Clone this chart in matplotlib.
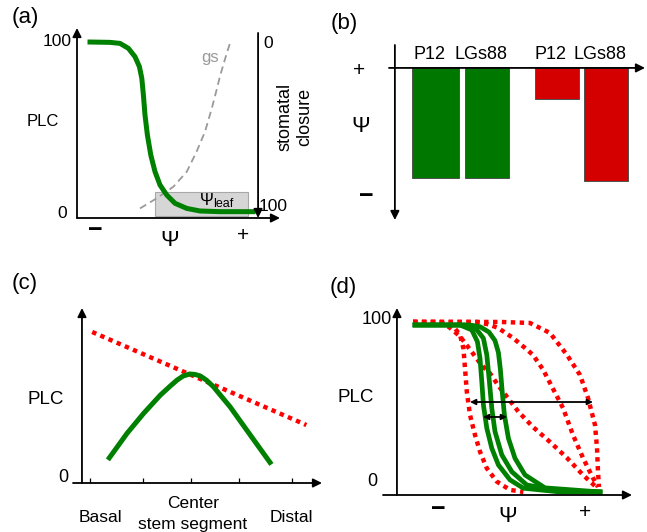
import numpy as np
import matplotlib
matplotlib.use('Agg')
import matplotlib.pyplot as plt
from matplotlib.patches import Rectangle

plt.rcParams['font.family'] = ['Liberation Sans', 'DejaVu Sans']

# ---- data (schematic values) ----
# (a) vulnerability curve and stomatal conductance vs water potential
a_psi = [0.65, 1.65, 2.15, 2.57, 2.9, 3.12, 3.24, 3.32, 3.4, 3.52, 3.69, 3.9, 4.15,
         4.49, 4.9, 5.49, 6.15, 7.15, 8.8]
a_plc = [100, 99.8, 99.2, 96.3, 91.4, 85.6, 78.8, 69.0, 57.3, 45.6, 33.9, 24.2, 16.4,
         10.5, 5.7, 2.7, 1.2, 0.8, 0.8]
gs_psi = [3.15, 3.98, 4.82, 5.49, 5.98, 6.4, 6.74, 6.98, 7.15, 7.4, 7.65]
gs_val = [2.7, 8.6, 15.4, 24.2, 35.9, 47.6, 61.2, 72.0, 80.0, 90.0, 99.4]
leaf_range = [3.9, 8.55]  # psi_leaf range
leaf_plc = [-1.75, 12.3]

# (b) water potential bars
b_labels = ['P12', 'LGs88', 'P12', 'LGs88']
b_values = [-3.5, -3.5, -1.0, -3.6]
b_colors = ['#007800', '#007800', '#d40000', '#d40000']

# (c) PLC along stem
c_ticks = [0, 1.05, 2.0, 2.95, 4.0]
c_red_pos = [0.04, 4.28]
c_red_plc = [85.9, 31.2]
c_green_pos = [0.38, 0.73, 1.06, 1.39, 1.6, 1.72, 1.84, 1.97, 2.08, 2.18, 2.3,
               2.44, 2.77, 3.10, 3.56]
c_green_plc = [11.9, 26.3, 38.1, 48.8, 54.5, 57.6, 60.0, 61.2, 60.9, 60.0, 57.6,
               53.7, 41.9, 28.2, 9.2]

# (d) vulnerability curves, red (dotted) and green (solid)
d_red = [
    ([0.8, 2.15, 2.82, 3.15, 3.32, 3.4, 3.49, 3.65, 3.9, 4.15, 4.49, 4.99, 5.65, 6.32],
     [100, 100, 97.3, 92.4, 84.5, 72.8, 59.0, 45.3, 33.5, 23.7, 13.9, 6.1, 1.2, 0]),
    ([0.8, 2.15, 2.6, 3.15, 3.7, 4.2, 4.65, 5.1, 5.49, 6.07, 6.8, 7.65, 8.5, 9.3, 10.0],
     [100, 99.5, 97, 91.5, 83, 75, 69.8, 62, 56.1, 47.2, 38.2, 29.4, 20, 10, 2.4]),
    ([0.8, 4.0, 4.6, 5.05, 5.8, 6.4, 6.8, 7.3, 7.65, 8.3, 8.8, 9.3, 9.8, 10.05],
     [100, 100, 98.5, 96.5, 90.6, 84.7, 80.6, 72.0, 64.1, 49.4, 33.5, 20, 8.2, 2.9]),
    ([0.8, 5.15, 6.65, 7.65, 8.5, 9.15, 9.55, 9.9, 10.0, 10.05, 10.1],
     [100, 100, 99.4, 93.5, 80.6, 68.8, 55.3, 39.4, 25.9, 11.8, 2.9]),
]
d_green = [
    ([0.9, 3.15, 3.74, 4.02, 4.15, 4.24, 4.32, 4.49, 4.74, 5.07, 5.65, 6.32, 8.15, 10.15],
     [98.2, 98.2, 95.3, 88.4, 78.6, 64.9, 51.2, 37.5, 25.7, 15.9, 7.1, 2.2, 0, 0]),
    ([0.9, 3.4, 3.95, 4.32, 4.49, 4.62, 4.74, 4.9, 5.24, 5.74, 6.49, 8.15, 10.15],
     [98.2, 98.2, 96.0, 90.4, 80.6, 64.9, 49.2, 35.5, 21.8, 11.9, 4.1, 0.6, 0]),
    ([0.9, 3.65, 4.15, 4.6, 4.9, 5.07, 5.17, 5.26, 5.37, 5.57, 5.9, 6.4, 7.4, 10.15],
     [98.2, 98.2, 97.2, 94.0, 89.0, 82.0, 72.0, 59.0, 45.3, 31.6, 19.8, 10, 2.4, 0]),
]
d_wide = [3.65, 9.8, 52.9]
d_narrow = [4.3, 5.5, 44.1]

# ---- layout ----
W, H = 647, 532
fig = plt.figure(figsize=(6.47, 5.32), dpi=100)
GREEN = '#008000'
RED = '#ff0000'
FS = 13


def panel(x0, y0, x1, y1):
    ax = fig.add_axes([x0 / W, 1 - y1 / H, (x1 - x0) / W, (y1 - y0) / H])
    ax.axis('off')
    return ax


def ftext(x, y, s, size=FS, ha='center', **kw):
    fig.text(x / W, 1 - y / H, s, fontsize=size, ha=ha, va='center', **kw)


def arrow(ax, start, end, lw=1.3, style='-|>', ms=13):
    ax.annotate('', xy=end, xytext=start, xycoords='axes fraction',
                textcoords='axes fraction', annotation_clip=False,
                arrowprops=dict(arrowstyle=style, color='k', lw=lw,
                                mutation_scale=ms, shrinkA=0, shrinkB=0))


# (a)
ax = panel(77, 28, 280, 218)
ax.set_xlim(0, 10.15)
ax.set_ylim(-2.9, 108.2)
ax.add_patch(Rectangle((leaf_range[0], leaf_plc[0]), leaf_range[1] - leaf_range[0],
                       leaf_plc[1] - leaf_plc[0], facecolor='#d6d6d6',
                       edgecolor='#a8a8a8', lw=0.8, zorder=1))
ax.plot(gs_psi, gs_val, color='#9a9a9a', lw=1.3, ls=(0, (4, 2.5)), zorder=2)
ax.plot(a_psi, a_plc, color=GREEN, lw=3.6, solid_joinstyle='round', zorder=3)
arrow(ax, (0, 0), (0, 1))
arrow(ax, (0, 0), (1, 0))
arrow(ax, (0.892, 0.974), (0.892, 0.0))
ax.text(6.15, 7.3, 'Ψ', fontsize=12, ha='left', va='center', zorder=4)
ax.text(6.8, 5.3, 'leaf', fontsize=9, ha='left', va='center', zorder=4)
ax.text(6.65, 91, 'gs', fontsize=12, color='#9a9a9a', ha='center', va='center')

ftext(12, 18, '(a)', 16, ha='left')
ftext(72, 42, '100', 12.5, ha='right')
ftext(67, 213, '0', 12.5, ha='right')
ftext(43, 122, 'PLC', 12)
ftext(95, 230, '−', 18, fontweight='bold')
ftext(170, 240, 'Ψ', 16)
ftext(243, 236, '+', 15)
ftext(263, 44, '0', 12.5, ha='left')
ftext(259, 206, '100', 12.5, ha='left')
fig.text(295 / W, 1 - 117 / H, 'stomatal\nclosure', fontsize=13, rotation=90,
         ha='center', va='center', linespacing=1.25)

# (b)
ax = panel(389, 45, 645, 220)
ax.set_xlim(-0.12, 5.0)
ax.set_ylim(-4.84, 0.73)
b_pos = np.array([0.81, 1.84, 3.24, 4.22])
ax.bar(b_pos, b_values, width=[0.94, 0.88, 0.88, 0.88], color=b_colors,
       edgecolor='#505050', lw=0.7)
for p, lab in zip(b_pos, b_labels):
    ax.text(p - 0.12, 0.42, lab, fontsize=13, ha='center', va='center')
arrow(ax, (0.023, 1.0), (0.023, 0.0))
arrow(ax, (0.0, 0.869), (1.0, 0.869))
ftext(331, 23, '(b)', 16, ha='left')
ftext(359, 70, '+', 15)
ftext(361, 127, 'Ψ', 16)
ftext(366, 196, '−', 18, fontweight='bold')

# (c)
ax = panel(73, 308, 322, 483)
ax.set_xlim(-0.34, 4.59)
ax.set_ylim(-2.9, 100)
ax.plot(c_red_pos, c_red_plc, color=RED, lw=3.2, ls=(0, (1, 1)))
ax.plot(c_green_pos, c_green_plc, color=GREEN, lw=3.6, solid_joinstyle='round')
ax.vlines(c_ticks, -2.9, 0.0, color='k', lw=0.9)
arrow(ax, (0.036, 0), (0.036, 1))
arrow(ax, (0, 0), (1, 0))
ftext(12, 283, '(c)', 16, ha='left')
ftext(46, 400, 'PLC', 13.5)
ftext(68, 477, '0', 13, ha='right')
ftext(100, 518, 'Basal', 12.5)
ftext(193, 504, 'Center', 12.5)
ftext(193, 524, 'stem segment', 12.5)
ftext(291, 518, 'Distal', 12.5)

# (d)
ax = panel(383, 308, 632, 495)
ax.set_xlim(-0.7, 11.75)
ax.set_ylim(-1.8, 108.2)
for xs, ys in d_red:
    ax.plot(xs, ys, color=RED, lw=3.2, ls=(0, (1, 1)), zorder=2)
for xs, ys in d_green:
    ax.plot(xs, ys, color=GREEN, lw=3.4, solid_joinstyle='round', zorder=3)
ax.annotate('', xy=(d_wide[1], d_wide[2]), xytext=(d_wide[0], d_wide[2]),
            arrowprops=dict(arrowstyle='<|-|>', color='k', lw=1.3,
                            mutation_scale=8, shrinkA=0, shrinkB=0), zorder=4)
ax.annotate('', xy=(d_narrow[1], d_narrow[2]), xytext=(d_narrow[0], d_narrow[2]),
            arrowprops=dict(arrowstyle='<|-|>', color='k', lw=1.3,
                            mutation_scale=8, shrinkA=0, shrinkB=0), zorder=4)
arrow(ax, (0.056, 0), (0.056, 1))
arrow(ax, (0, 0), (1, 0))
ftext(330, 288, '(d)', 16, ha='left')
ftext(392, 320, '100', 13, ha='right')
ftext(377, 482, '0', 13, ha='right')
ftext(356, 397, 'PLC', 13.5)
ftext(438, 509, '−', 18, fontweight='bold')
ftext(508, 517, 'Ψ', 16)
ftext(585, 512, '+', 15)

fig.savefig('out.png', dpi=100)
